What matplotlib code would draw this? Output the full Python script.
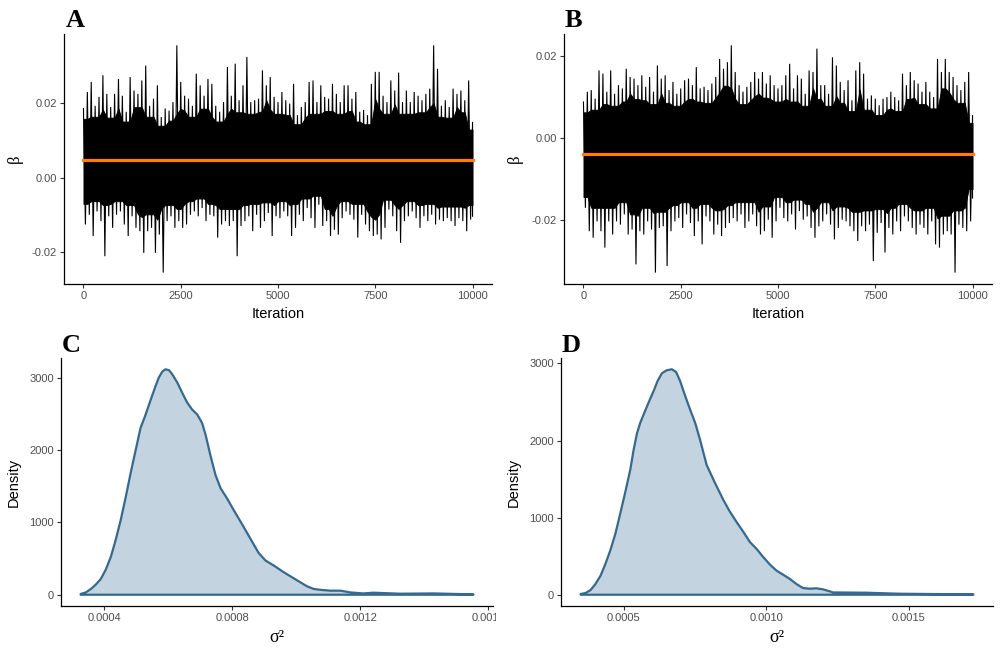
import numpy as np
import matplotlib
matplotlib.use("Agg")
import matplotlib.pyplot as plt
from matplotlib.transforms import Bbox, TransformedBbox

plt.rcParams['font.family'] = ['Liberation Sans', 'DejaVu Sans']

# ---------------- data ----------------
iterations = np.arange(0, 10001, 100)

beta_A_upper = [
    0.0186, 0.0230, 0.0257, 0.0193, 0.0217, 0.0275, 0.0225, 0.0190, 0.0225, 0.0265,
    0.0220, 0.0177, 0.0270, 0.0234, 0.0225, 0.0261, 0.0301, 0.0193, 0.0212, 0.0248,
    0.0163, 0.0186, 0.0180, 0.0203, 0.0355, 0.0257, 0.0220, 0.0212, 0.0193, 0.0279,
    0.0248, 0.0220, 0.0265, 0.0252, 0.0193, 0.0177, 0.0203, 0.0297, 0.0220, 0.0306,
    0.0208, 0.0248, 0.0324, 0.0203, 0.0208, 0.0212, 0.0288, 0.0248, 0.0270, 0.0217,
    0.0203, 0.0230, 0.0208, 0.0199, 0.0252, 0.0168, 0.0190, 0.0203, 0.0257, 0.0261,
    0.0203, 0.0248, 0.0217, 0.0212, 0.0252, 0.0225, 0.0203, 0.0248, 0.0248, 0.0212,
    0.0230, 0.0177, 0.0182, 0.0168, 0.0252, 0.0284, 0.0284, 0.0220, 0.0203, 0.0261,
    0.0234, 0.0282, 0.0203, 0.0234, 0.0203, 0.0230, 0.0220, 0.0208, 0.0225, 0.0239,
    0.0355, 0.0292, 0.0193, 0.0208, 0.0190, 0.0239, 0.0225, 0.0234, 0.0208, 0.0261,
    0.0150]
beta_A_lower = [
    -0.0125, -0.0099, -0.0156, -0.0090, -0.0116, -0.0210, -0.0103, -0.0134, -0.0099, -0.0090,
    -0.0125, -0.0156, -0.0103, -0.0134, -0.0143, -0.0201, -0.0143, -0.0134, -0.0201, -0.0152,
    -0.0254, -0.0116, -0.0103, -0.0134, -0.0116, -0.0134, -0.0125, -0.0099, -0.0090, -0.0103,
    -0.0081, -0.0116, -0.0099, -0.0103, -0.0160, -0.0125, -0.0116, -0.0129, -0.0116, -0.0210,
    -0.0129, -0.0116, -0.0103, -0.0143, -0.0099, -0.0134, -0.0116, -0.0094, -0.0156, -0.0103,
    -0.0108, -0.0090, -0.0103, -0.0156, -0.0134, -0.0099, -0.0116, -0.0081, -0.0108, -0.0134,
    -0.0072, -0.0129, -0.0116, -0.0156, -0.0139, -0.0152, -0.0108, -0.0090, -0.0099, -0.0112,
    -0.0160, -0.0099, -0.0125, -0.0143, -0.0156, -0.0152, -0.0165, -0.0134, -0.0085, -0.0103,
    -0.0143, -0.0174, -0.0116, -0.0103, -0.0090, -0.0108, -0.0134, -0.0103, -0.0116, -0.0099,
    -0.0125, -0.0112, -0.0116, -0.0108, -0.0116, -0.0129, -0.0108, -0.0116, -0.0143, -0.0112,
    -0.0103]
beta_A_mean = 0.0047

beta_B_upper = [
    0.0087, 0.0112, 0.0116, 0.0095, 0.0164, 0.0156, 0.0112, 0.0164, 0.0107, 0.0128,
    0.0120, 0.0168, 0.0148, 0.0144, 0.0128, 0.0152, 0.0124, 0.0148, 0.0112, 0.0176,
    0.0144, 0.0152, 0.0116, 0.0136, 0.0107, 0.0120, 0.0140, 0.0144, 0.0128, 0.0172,
    0.0120, 0.0124, 0.0116, 0.0132, 0.0148, 0.0192, 0.0168, 0.0184, 0.0225, 0.0160,
    0.0128, 0.0112, 0.0124, 0.0136, 0.0160, 0.0144, 0.0160, 0.0132, 0.0152, 0.0128,
    0.0120, 0.0128, 0.0152, 0.0180, 0.0120, 0.0152, 0.0144, 0.0107, 0.0164, 0.0160,
    0.0217, 0.0128, 0.0128, 0.0107, 0.0196, 0.0176, 0.0136, 0.0116, 0.0140, 0.0091,
    0.0164, 0.0184, 0.0156, 0.0095, 0.0103, 0.0095, 0.0079, 0.0095, 0.0099, 0.0112,
    0.0099, 0.0091, 0.0156, 0.0128, 0.0160, 0.0140, 0.0132, 0.0112, 0.0136, 0.0112,
    0.0099, 0.0192, 0.0160, 0.0192, 0.0160, 0.0148, 0.0128, 0.0116, 0.0136, 0.0160,
    0.0055]
beta_B_lower = [
    -0.0171, -0.0228, -0.0244, -0.0204, -0.0228, -0.0268, -0.0204, -0.0236, -0.0204, -0.0212,
    -0.0187, -0.0236, -0.0224, -0.0309, -0.0228, -0.0236, -0.0204, -0.0224, -0.0329, -0.0220,
    -0.0216, -0.0313, -0.0228, -0.0204, -0.0196, -0.0220, -0.0187, -0.0208, -0.0240, -0.0204,
    -0.0260, -0.0192, -0.0204, -0.0236, -0.0212, -0.0240, -0.0220, -0.0208, -0.0196, -0.0204,
    -0.0187, -0.0220, -0.0204, -0.0187, -0.0216, -0.0236, -0.0228, -0.0200, -0.0244, -0.0204,
    -0.0171, -0.0196, -0.0204, -0.0187, -0.0224, -0.0179, -0.0200, -0.0192, -0.0220, -0.0244,
    -0.0216, -0.0204, -0.0187, -0.0212, -0.0248, -0.0220, -0.0200, -0.0204, -0.0216, -0.0228,
    -0.0252, -0.0216, -0.0228, -0.0212, -0.0301, -0.0232, -0.0208, -0.0280, -0.0220, -0.0236,
    -0.0204, -0.0228, -0.0192, -0.0204, -0.0220, -0.0236, -0.0212, -0.0220, -0.0236, -0.0204,
    -0.0260, -0.0268, -0.0236, -0.0228, -0.0236, -0.0329, -0.0212, -0.0220, -0.0228, -0.0204,
    -0.0147]
beta_B_mean = -0.0039

sigma2_C = [0.000327, 0.000343, 0.000359, 0.000374, 0.000390, 0.000405, 0.000421,
            0.000436, 0.000452, 0.000468, 0.000483, 0.000499, 0.000514, 0.000530,
            0.000546, 0.000561, 0.000571, 0.000582, 0.000592, 0.000603, 0.000613,
            0.000629, 0.000644, 0.000660, 0.000675, 0.000691, 0.000706, 0.000717,
            0.000733, 0.000748, 0.000764, 0.000784, 0.000805, 0.000831, 0.000857,
            0.000883, 0.000904, 0.000930, 0.000961, 0.000987, 0.001013, 0.001034,
            0.001055, 0.001081, 0.001107, 0.001138, 0.001169, 0.001209, 0.001241,
            0.001325, 0.001428, 0.001553]
density_C = [10, 32, 79, 139, 218, 343, 519, 751, 1029, 1354, 1678, 2003, 2304, 2490,
             2698, 2884, 3000, 3083, 3115, 3102, 3046, 2930, 2791, 2652, 2559, 2490,
             2374, 2211, 1910, 1655, 1470, 1331, 1168, 974, 774, 575, 473, 403, 311,
             241, 171, 116, 79, 65, 56, 56, 32, 18, 28, 14, 18, 5]

sigma2_D = [0.000349, 0.000366, 0.000384, 0.000401, 0.000419, 0.000436, 0.000453,
            0.000471, 0.000488, 0.000506, 0.000523, 0.000535, 0.000547, 0.000558,
            0.000570, 0.000587, 0.000605, 0.000619, 0.000634, 0.000651, 0.000669,
            0.000684, 0.000698, 0.000716, 0.000733, 0.000751, 0.000768, 0.000791,
            0.000821, 0.000850, 0.000873, 0.000896, 0.000920, 0.000943, 0.000966,
            0.000990, 0.001013, 0.001036, 0.001059, 0.001083, 0.001106, 0.001129,
            0.001153, 0.001176, 0.001199, 0.001223, 0.001234, 0.001351, 0.001467,
            0.001584, 0.001727]
density_D = [9, 22, 61, 139, 248, 400, 574, 792, 1053, 1336, 1619, 1880, 2098, 2228,
             2337, 2489, 2641, 2772, 2872, 2911, 2924, 2889, 2772, 2576, 2402, 2228,
             2010, 1684, 1445, 1227, 1075, 944, 814, 683, 596, 487, 392, 313, 261,
             205, 139, 87, 78, 83, 70, 44, 30, 26, 13, 9, 4]

trace_xticks = [0, 2500, 5000, 7500, 10000]
trace_yticks = [-0.02, 0.00, 0.02]
trace_ylabels = ["-0.02", "0.00", "0.02"]
dens_yticks = [0, 1000, 2000, 3000]
C_xticks = [0.0004, 0.0008, 0.0012, 0.0016]
C_xlabels = ["0.0004", "0.0008", "0.0012", "0.0016"]
D_xticks = [0.0005, 0.0010, 0.0015]
D_xlabels = ["0.0005", "0.0010", "0.0015"]
panel_letters = ["A", "B", "C", "D"]

# ---------------- style ----------------
TICK_COL = '#4D4D4D'
LINE_BLUE = '#35698F'
FILL_BLUE = '#C3D4E0'
ORANGE = '#FF7F00'
SERIF = ['Liberation Serif', 'DejaVu Serif']

fig = plt.figure(figsize=(10, 6.5), dpi=100)

def make_ax(rect):
    ax = fig.add_axes(rect)
    for s in ['top', 'right']:
        ax.spines[s].set_visible(False)
    for s in ['left', 'bottom']:
        ax.spines[s].set_linewidth(0.9)
        ax.spines[s].set_color('black')
    ax.tick_params(direction='out', length=3.0, width=0.8, color='#333333',
                   labelsize=8, labelcolor=TICK_COL, pad=2)
    return ax

def pad_range(lo, hi, frac=0.05):
    r = hi - lo
    return lo - frac * r, hi + frac * r

def rolling(arr, fn, w=3):
    a = np.asarray(arr)
    p = np.pad(a, w // 2, mode='edge')
    win = np.lib.stride_tricks.sliding_window_view(p, w)
    return fn(win, axis=1)

def trace_panel(rect, upper, lower, mean):
    ax = make_ax(rect)
    upper = np.asarray(upper)
    lower = np.asarray(lower)
    n = len(iterations)
    xs = np.empty(2 * n)
    ys = np.empty(2 * n)
    xs[0::2] = iterations
    xs[1::2] = np.minimum(iterations + 50, iterations[-1])
    ys[0::2] = upper
    ys[1::2] = lower
    core_hi = mean + 0.8 * (rolling(upper, np.min) - mean)
    core_lo = mean + 0.8 * (rolling(lower, np.max) - mean)
    ax.fill_between(iterations, core_lo, core_hi, color='black', lw=0.6,
                    edgecolor='black')
    ax.plot(xs, ys, color='black', lw=0.8, solid_joinstyle='miter')
    ax.axhline(mean, color=ORANGE, lw=2.3, xmin=0.5 / 11, xmax=10.5 / 11)
    ax.set_xlim(*pad_range(iterations[0], iterations[-1]))
    ax.set_ylim(*pad_range(lower.min(), upper.max()))
    ax.set_xticks(trace_xticks)
    ax.set_xticklabels([str(t) for t in trace_xticks])
    ax.set_yticks(trace_yticks)
    ax.set_yticklabels(trace_ylabels)
    ax.set_xlabel('Iteration', fontsize=10.5, va='baseline')
    ax.xaxis.set_label_coords(0.5, -0.137)
    ax.set_ylabel('β', fontsize=12, va='center', family=SERIF)
    ax.yaxis.set_label_coords(-0.114, 0.5)
    return ax

def density_panel(rect, xv, dv, xticks, xlabels):
    ax = make_ax(rect)
    xv = np.asarray(xv)
    dv = np.asarray(dv, dtype=float)
    px = np.concatenate([xv, [xv[-1], xv[0]]])
    py = np.concatenate([dv, [0, 0]])
    ax.fill(px, py, facecolor=FILL_BLUE, edgecolor=LINE_BLUE, lw=1.6,
            joinstyle='round')
    ax.set_xlim(*pad_range(xv.min(), xv.max()))
    ax.set_ylim(*pad_range(0, dv.max()))
    ax.set_xticks(xticks)
    ax.set_xticklabels(xlabels)
    ax.set_yticks(dens_yticks)
    ax.set_yticklabels([str(t) for t in dens_yticks])
    ax.set_xlabel('σ²', fontsize=13, va='baseline', family=SERIF)
    ax.xaxis.set_label_coords(0.5, -0.146)
    ax.set_ylabel('Density', fontsize=10.5, va='center')
    ax.yaxis.set_label_coords(-0.109, 0.5)
    return ax

axA = trace_panel([0.064, 1 - 284 / 650, 0.428, 250 / 650], beta_A_upper, beta_A_lower, beta_A_mean)
axB = trace_panel([0.564, 1 - 284 / 650, 0.428, 250 / 650], beta_B_upper, beta_B_lower, beta_B_mean)
axC = density_panel([0.061, 1 - 606 / 650, 0.432, 248 / 650], sigma2_C, density_C, C_xticks, C_xlabels)
axD = density_panel([0.561, 1 - 606 / 650, 0.432, 248 / 650], sigma2_D, density_D, D_xticks, D_xlabels)

# clip the last tick label of panel C at the panel boundary (as in the source)
clip = TransformedBbox(Bbox([[0, 0], [0.496, 1]]), fig.transFigure)
last_tick = axC.xaxis.get_major_ticks()[-1]
last_tick.label1.set_clip_box(clip)
last_tick.label1.set_clip_on(True)

letter_pos = [(0.066, 1 - 27 / 650), (0.565, 1 - 27 / 650),
              (0.062, 1 - 352 / 650), (0.562, 1 - 352 / 650)]
for lab, (lx, ly) in zip(panel_letters, letter_pos):
    fig.text(lx, ly, lab, fontsize=19, fontweight='bold',
             family=SERIF, va='baseline', ha='left')

fig.savefig('out.png', dpi=100)
